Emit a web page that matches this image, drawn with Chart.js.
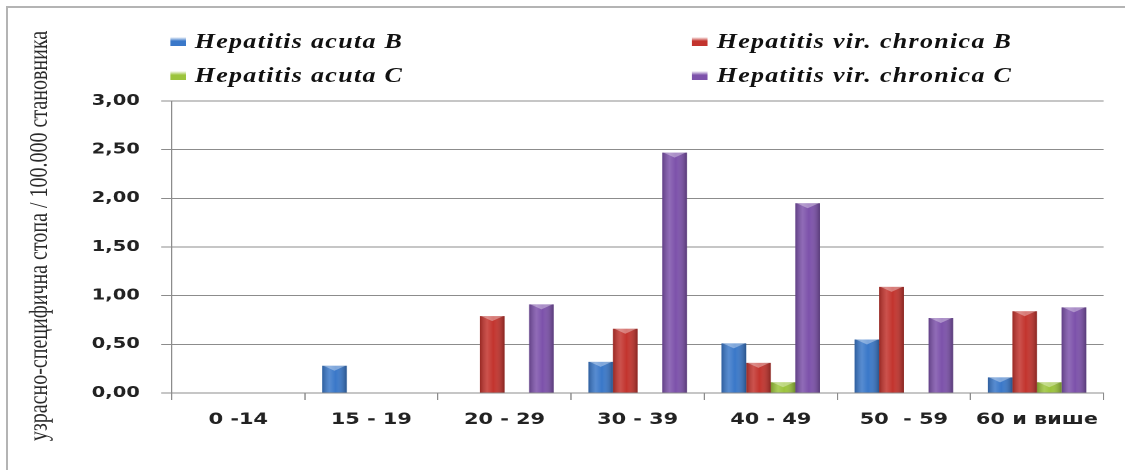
<!DOCTYPE html>
<html>
<head>
<meta charset="utf-8">
<script src="https://cdn.jsdelivr.net/npm/chart.js@4"></script>
<style>
  html, body { margin: 0; background: #fff; overflow: hidden; width: 1125px; height: 470px; }
  .rule { position: absolute; background: #b4b4b4; }
  /* the whole chart is drawn narrow and stretched sideways, like the original picture */
  #wrap { position: absolute; left: 0; top: 0; width: 865px; height: 470px;
          transform: scaleX(1.3006); transform-origin: 0 0; }
  #legend .item { position: absolute; display: flex; align-items: center; white-space: nowrap;
          font: italic bold 20px "Liberation Serif"; color: #111; letter-spacing: 1px; }
  #legend .box { width: 12px; height: 9px; margin-right: 7px; }
</style>
</head>
<body>
<div class="rule" style="left:6px;top:6px;width:1119px;height:2px"></div>
<div class="rule" style="left:6px;top:6px;width:2px;height:464px"></div>
<div id="wrap">
  <canvas id="chartHep"></canvas>
  <div id="legend"></div>
</div>
<script>
const ageGroups = ["0 -14", "15 - 19", "20 - 29", "30 - 39", "40 - 49", "50  - 59", "60 и више"];
const acutaB = [0, 0.28, 0, 0.32, 0.51, 0.55, 0.16];
const chronicaB = [0, 0, 0.79, 0.66, 0.31, 1.09, 0.84];
const acutaC = [0, 0, 0, 0, 0.11, 0, 0.11];
const chronicaC = [0, 0, 0.91, 2.47, 1.95, 0.77, 0.88];
const yTitleText = "узрасно-специфична стопа / 100.000 становника";

const tickFont = { family: "DejaVu Sans", weight: "bold", size: 15 };
const gridGray = "#8c8c8c";

// cylinder-like shading on top of every bar
const shade = {
  id: "shade",
  afterDatasetsDraw(chart) {
    const c = chart.ctx;
    chart.data.datasets.forEach((ds, i) => {
      chart.getDatasetMeta(i).data.forEach((bar) => {
        const h = bar.base - bar.y;
        if (h < 1) return;
        const l = bar.x - bar.width / 2, r = bar.x + bar.width / 2;
        const g = c.createLinearGradient(l, 0, r, 0);
        g.addColorStop(0, "rgba(0,0,0,0.22)");
        g.addColorStop(0.3, "rgba(255,255,255,0.15)");
        g.addColorStop(0.55, "rgba(255,255,255,0)");
        g.addColorStop(1, "rgba(0,0,0,0.3)");
        c.save();
        c.fillStyle = g;
        c.fillRect(l, bar.y, bar.width, h);
        // light chevron at the top
        c.fillStyle = "rgba(255,255,255,0.35)";
        c.beginPath();
        c.moveTo(l + 1, bar.y);
        c.lineTo(r - 1, bar.y);
        c.lineTo(bar.x, bar.y + Math.min(5, h));
        c.closePath();
        c.fill();
        c.restore();
      });
    });
  }
};

const yTitle = {
  id: "yTitle",
  afterDraw(chart) {
    const c = chart.ctx;
    c.save();
    c.translate(30.5, 236);
    c.rotate(-Math.PI / 2);
    c.font = '20px "Liberation Serif"';
    c.fillStyle = "#2a2a2a";
    c.textAlign = "center";
    c.textBaseline = "middle";
    c.fillText(yTitleText, 0, 0);
    c.restore();
  }
};

const data = {
  labels: ageGroups,
  datasets: [
    { label: "Hepatitis acuta B", data: acutaB, backgroundColor: "#3a78c9" },
    { label: "Hepatitis vir. chronica B", data: chronicaB, backgroundColor: "#c3342e" },
    { label: "Hepatitis acuta C", data: acutaC, backgroundColor: "#9cc43c" },
    { label: "Hepatitis vir. chronica C", data: chronicaC, backgroundColor: "#7d52ab" },
  ],
};

const config = {
  type: "bar",
  data,
  options: {
    responsive: true,
    maintainAspectRatio: false,
    devicePixelRatio: 2,
    animation: false,
    events: [],
    layout: { padding: { top: 101, right: 16.5, left: 0, bottom: 0 } },
    datasets: { bar: { categoryPercentage: 0.74, barPercentage: 1.0, borderWidth: 0 } },
    plugins: { legend: { display: false }, tooltip: { enabled: false } },
    scales: {
      x: {
        grid: { drawOnChartArea: false, color: gridGray, tickLength: 7 },
        border: { color: gridGray },
        ticks: { font: { ...tickFont, size: 16 }, color: "#222", padding: 10, maxRotation: 0 },
        afterFit: (s) => { s.height = 77; },
      },
      y: {
        min: 0,
        max: 3,
        ticks: {
          stepSize: 0.5,
          font: tickFont,
          color: "#222",
          padding: 16.5,
          callback: (v) => v.toFixed(2).replace(".", ","),
        },
        grid: { color: gridGray, tickLength: 8 },
        border: { color: gridGray },
        afterFit: (s) => { s.width = 132; },
      },
    },
  },
  plugins: [shade, yTitle],
};

const chartHep = new Chart(document.getElementById("chartHep"), config);

// legend in two columns, built from the datasets
const legendPos = [[130.7, 41], [532, 41], [130.7, 75], [532, 75]];
const legendEl = document.getElementById("legend");
chartHep.data.datasets.forEach((ds, i) => {
  const item = document.createElement("div");
  item.className = "item";
  item.style.left = legendPos[i][0] + "px";
  item.style.top = (legendPos[i][1] - 12) + "px";
  item.style.height = "24px";
  const box = document.createElement("span");
  box.className = "box";
  box.style.background = "linear-gradient(#ffffff99, " + ds.backgroundColor + " 45%, " + ds.backgroundColor + ")";
  item.appendChild(box);
  item.appendChild(document.createTextNode(ds.label));
  legendEl.appendChild(item);
});
</script>
</body>
</html>
